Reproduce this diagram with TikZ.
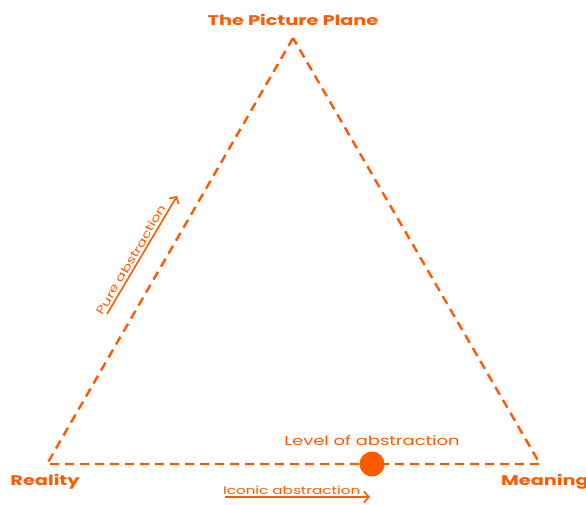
\documentclass[tikz,border=0pt]{standalone}
\usepackage{fontspec}
\setmainfont[FakeStretch=1.38]{Poppins}
\usetikzlibrary{positioning, arrows.meta}

\definecolor{accent}{HTML}{FF5A00}

\tikzset{
  side/.style={accent, line width=2.4pt, dash pattern=on 9pt off 6pt},
  arr/.style={accent, line width=1.6pt, -{Straight Barb[length=5pt,width=11pt]}},
  corner/.style={text=accent, font=\fontsize{14}{16}\selectfont\bfseries},
  lbl/.style={text=accent, font=\fontsize{11}{13}\selectfont, inner sep=2pt},
}

\begin{document}
\begin{tikzpicture}[x=1pt,y=-1pt]
       \useasboundingbox (0,0) rectangle (586,504);
       \coordinate (top) at (293,38);
       \coordinate (reality) at (47,464);
       \coordinate (meaning) at (540,464);
       \draw[side] (top) -- (reality) -- (meaning) -- cycle;

       \node[corner] (plane) at (293,20) {The Picture Plane};
       \node[corner] (real) at (45,482) {Reality};
       \node[corner] (mean) at (545,482) {Meaning};

       \node[circle, fill=accent, inner sep=0pt, minimum size=25pt] (level) at (372,464) {};
       \node[lbl, font=\fontsize{13}{15}\selectfont] (levellbl) [above=16pt of level.center] {Level of abstraction};

       % arrows
       \coordinate (pa1) at (107,314);
       \coordinate (pa2) at (177,196);
       \coordinate (ia1) at (225,497);
       \coordinate (ia2) at (370,497);
       \draw[arr] (pa1) -- node[lbl, sloped, above, pos=0.43] {Pure abstraction} (pa2);
       \draw[arr] (ia1) -- node[lbl, above, pos=0.46] {Iconic abstraction} (ia2);
\end{tikzpicture}
\end{document}
